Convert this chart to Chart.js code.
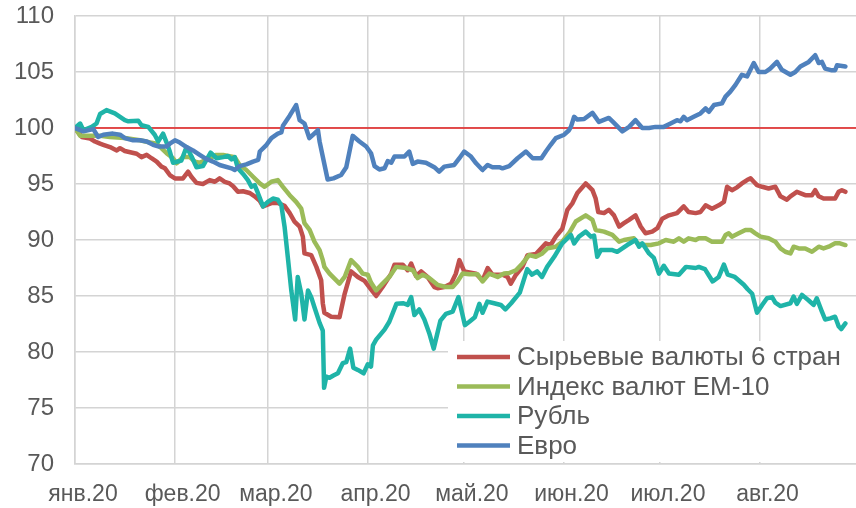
<!DOCTYPE html>
<html>
<head>
<meta charset="utf-8">
<script src="https://cdn.jsdelivr.net/npm/chart.js@4.4.1/dist/chart.umd.min.js"></script>
<style>
  body { margin: 0; background: #fff; }
  canvas { display: block; }
</style>
</head>
<body>
<canvas id="fx" width="856" height="508"></canvas>
<script>
// x values are days counted from 1 Jan 2020
const monthTicks = [0, 31, 60, 91, 121, 152, 182, 213];
const monthLabels = ['янв.20', 'фев.20', 'мар.20', 'апр.20', 'май.20', 'июн.20', 'июл.20', 'авг.20'];

const refDays = [0, 243];
const refVals = [100, 100];

const commDays = [0, 2.1, 4.7, 6.2, 7.8, 8.8, 10.9, 13.0, 14.0, 15.5, 19.2, 20.7, 22.3, 23.8, 25.4, 26.9, 28.0, 29.5, 31.1, 33.6,
  35.2, 36.2, 37.8, 39.8, 41.9, 43.5, 45.0, 46.6, 48.1, 49.2, 50.7, 52.3, 54.3, 55.9, 57.5, 58.5, 61.1, 63.1, 65.2, 66.8,
  68.3, 69.9, 70.9, 71.4, 73.5, 75.1, 76.6, 77.1, 77.6, 79.7, 82.3, 83.9, 85.9, 88.0, 90.1, 92.1, 93.7, 95.7, 98.4, 99.4,
  102.0, 103.5, 104.6, 106.1, 107.7, 109.7, 111.8, 112.8, 114.9, 117.0, 118.5, 119.6, 121.1, 124.8, 126.8, 128.4, 129.9, 133.0, 134.6, 135.6,
  137.2, 139.2, 140.8, 143.4, 146.5, 148.0, 149.6, 151.6, 153.2, 154.8, 156.3, 158.9, 161.0, 162.0, 162.8, 164.6, 166.1, 167.7, 169.3, 170.8,
  172.4, 174.4, 176.0, 177.5, 179.6, 181.2, 182.7, 184.8, 187.3, 189.4, 190.9, 193.1, 194.6, 196.2, 198.2, 200.3, 201.9, 202.9, 204.4, 206.0,
  207.5, 209.1, 210.2, 211.2, 212.2, 213.8, 215.8, 217.9, 219.5, 221.5, 222.6, 224.6, 227.2, 229.3, 230.3, 231.4, 232.9, 236.5, 237.6, 238.6, 239.7];
const commVals = [100, 99.2, 99.05, 98.8, 98.6, 98.5, 98.3, 98.0, 98.2, 97.95, 97.7, 97.4, 97.6, 97.3, 97.0, 96.55, 96.4, 95.8, 95.5, 95.5,
  96.1, 95.65, 95.1, 95.0, 95.35, 95.2, 95.5, 95.2, 95.05, 94.8, 94.3, 94.35, 94.2, 93.9, 93.5, 93.0, 93.3, 93.3, 93.05, 92.4,
  91.65, 91.2, 90.3, 88.8, 88.65, 87.6, 86.4, 84.35, 83.5, 83.15, 83.1, 85.2, 87.2, 86.7, 86.35, 85.6, 85.0, 85.8, 87.0, 87.8,
  87.8, 87.3, 87.9, 86.8, 87.2, 86.7, 85.8, 85.7, 85.8, 86.1, 87.0, 88.2, 87.2, 87.0, 86.4, 87.5, 86.9, 86.9, 86.7, 86.1,
  86.9, 87.6, 88.65, 88.75, 89.7, 89.55, 90.3, 91.0, 92.7, 93.3, 94.2, 95.05, 94.45, 93.7, 92.5, 92.4, 92.7, 92.2, 91.2, 91.5,
  91.8, 92.2, 91.2, 90.6, 90.75, 91.05, 91.9, 92.2, 92.4, 93.0, 92.5, 92.4, 92.5, 93.1, 92.8, 93.1, 93.4, 94.75, 94.45, 94.7,
  95.05, 95.35, 95.5, 95.2, 94.9, 94.75, 94.6, 94.75, 93.9, 93.6, 93.9, 94.3, 94.0, 94.0, 94.45, 93.9, 93.7, 93.7, 94.3, 94.45, 94.3];

const emDays = [0, 1.6, 7.8, 10.9, 15.5, 20.2, 23.4, 25.4, 28.5, 30.5, 31.6, 33.6, 35.7, 37.3, 38.8, 44.0, 46.1, 49.7, 51.2, 53.3,
  55.4, 57.5, 59.0, 61.1, 63.1, 64.7, 66.8, 68.8, 70.4, 71.4, 73.0, 74.5, 76.1, 77.1, 77.6, 79.2, 82.3, 83.9, 85.9, 88.0,
  89.5, 91.1, 92.1, 93.7, 95.7, 97.8, 99.9, 103.0, 105.1, 106.6, 108.2, 110.2, 112.8, 115.4, 117.5, 119.0, 120.6, 122.7, 125.2, 126.8,
  128.9, 131.5, 133.5, 135.1, 137.2, 139.2, 141.3, 143.4, 145.4, 147.0, 149.6, 151.6, 153.7, 155.8, 158.9, 161.0, 162.0, 164.6, 167.2, 169.3,
  170.8, 173.9, 175.0, 177.0, 179.1, 181.7, 183.8, 186.3, 187.9, 189.4, 190.9, 193.1, 194.1, 196.2, 198.2, 201.3, 202.4, 203.4, 204.4, 206.5,
  208.6, 210.2, 211.7, 213.3, 215.8, 217.9, 219.5, 221.0, 222.6, 223.6, 225.2, 227.2, 229.3, 231.4, 232.9, 234.5, 236.5, 238.0, 239.7];
const emVals = [100, 99.3, 99.3, 99.2, 99.1, 98.9, 98.7, 98.6, 97.75, 97.3, 96.85, 97.4, 97.4, 97.0, 96.9, 97.6, 97.6, 97.4, 96.7, 96.25,
  95.65, 95.05, 94.75, 95.2, 95.35, 94.75, 94.0, 93.4, 92.8, 91.5, 90.9, 89.85, 89.1, 88.2, 87.6, 87.0, 86.1, 86.7, 88.2, 87.6,
  87.0, 86.9, 86.2, 85.5, 86.1, 86.7, 87.6, 87.5, 87.3, 86.6, 86.9, 86.6, 86.0, 85.8, 85.8, 86.3, 87.0, 86.95, 86.95, 86.3,
  87.0, 86.7, 87.0, 87.05, 87.3, 87.9, 88.65, 88.5, 88.8, 89.25, 89.4, 89.85, 90.6, 91.65, 92.2, 91.8, 90.9, 90.75, 90.45, 89.85,
  90.0, 90.15, 89.7, 89.55, 89.55, 89.7, 90.0, 89.85, 90.15, 89.85, 90.15, 90.0, 90.15, 90.15, 89.85, 89.85, 90.45, 90.6, 90.3, 90.6,
  90.9, 90.9, 90.6, 90.3, 90.15, 89.85, 89.25, 88.95, 88.8, 89.4, 89.25, 89.25, 88.95, 89.4, 89.25, 89.4, 89.7, 89.7, 89.55];

const rubDays = [0, 1.6, 2.6, 5.2, 6.7, 7.8, 9.8, 12.4, 15.5, 16.6, 19.7, 20.7, 22.8, 24.8, 25.9, 27.4, 28.5, 29.5, 30.5, 33.1,
  34.7, 36.2, 37.8, 39.8, 42.2, 44.0, 46.1, 47.6, 48.7, 49.7, 50.7, 52.3, 53.8, 54.9, 55.9, 56.9, 58.5, 60.0, 61.6, 63.1,
  64.2, 65.2, 66.2, 67.3, 68.5, 69.3, 70.4, 71.4, 72.5, 73.5, 74.5, 76.1, 77.1, 77.5, 78.2, 79.2, 80.4, 81.8, 83.3, 84.4,
  85.6, 86.6, 88.0, 89.8, 91.1, 92.1, 92.7, 93.7, 96.3, 97.8, 100.0, 102.2, 103.5, 104.6, 105.6, 107.1, 108.7, 110.2, 111.6, 113.7,
  115.4, 117.5, 119.3, 121.3, 122.7, 124.4, 125.8, 126.8, 128.3, 130.4, 132.5, 133.9, 135.7, 138.4, 140.7, 142.2, 143.8, 145.3, 146.9, 149.1,
  151.6, 154.3, 155.3, 156.8, 158.9, 160.5, 161.5, 162.5, 163.6, 167.2, 168.7, 170.3, 171.8, 174.4, 175.5, 176.5, 178.6, 180.1, 181.7, 183.2,
  184.8, 187.9, 190.1, 193.1, 194.1, 196.0, 198.4, 200.3, 201.9, 203.1, 205.3, 208.1, 209.3, 210.7, 212.2, 213.8, 215.3, 216.9, 217.9, 219.5,
  222.6, 223.6, 224.6, 226.2, 228.3, 229.8, 230.8, 232.4, 233.4, 235.0, 236.5, 237.6, 238.4, 239.7];
const rubVals = [100, 100.4, 99.8, 100.1, 100.4, 101.25, 101.6, 101.3, 100.7, 100.6, 100.65, 100.25, 100.1, 99.4, 98.8, 99.5, 98.7, 97.9, 96.9, 97.1,
  98.3, 97.5, 96.5, 96.6, 97.8, 97.3, 97.4, 97.5, 97.2, 97.4, 96.4, 95.9, 95.35, 94.75, 94.9, 94.2, 93.0, 93.4, 93.7, 93.6,
  93.1, 91.2, 88.5, 85.5, 82.9, 86.7, 85.2, 82.9, 85.5, 84.9, 84.0, 82.6, 81.9, 76.8, 77.8, 77.7, 77.9, 78.1, 79.0, 79.1,
  80.3, 78.6, 78.4, 78.1, 78.9, 78.7, 80.6, 81.1, 82.0, 82.7, 84.3, 84.35, 84.2, 84.9, 83.3, 83.8, 82.9, 81.7, 80.3, 82.8,
  83.4, 83.6, 84.9, 82.4, 82.7, 83.1, 84.3, 83.5, 84.5, 84.35, 84.2, 83.8, 84.35, 85.3, 87.4, 86.9, 87.2, 86.7, 87.6, 88.5,
  89.7, 90.45, 89.7, 90.3, 90.75, 90.3, 90.4, 88.5, 89.1, 89.1, 88.95, 89.25, 89.55, 90.0, 89.4, 89.7, 88.8, 88.4, 87.0, 87.7,
  87.0, 86.9, 87.6, 87.5, 87.6, 87.4, 86.3, 86.7, 87.8, 86.9, 86.7, 86.0, 85.6, 85.2, 83.5, 84.2, 84.8, 84.9, 84.4, 84.1,
  84.35, 84.95, 84.3, 85.1, 84.6, 84.2, 84.8, 83.6, 82.9, 83.0, 83.15, 82.3, 82.05, 82.55];

const eurDays = [0, 2.6, 5.7, 7.2, 8.8, 11.8, 14.0, 15.5, 18.1, 20.2, 22.3, 24.3, 25.9, 28.5, 29.5, 31.1, 32.6, 34.7, 36.7, 38.8,
  40.4, 42.9, 45.0, 48.7, 49.7, 51.2, 53.3, 55.4, 57.0, 57.5, 59.6, 61.1, 63.1, 64.2, 64.7, 66.8, 68.8, 69.9, 71.4, 72.9,
  75.6, 76.1, 78.6, 80.4, 82.8, 84.4, 86.4, 88.5, 90.6, 92.1, 93.2, 94.7, 96.3, 97.3, 98.4, 99.4, 102.5, 104.0, 105.1, 106.6,
  109.2, 111.8, 113.3, 114.9, 118.0, 119.6, 121.1, 123.2, 124.8, 126.8, 128.4, 129.9, 132.0, 133.0, 135.1, 137.7, 140.3, 142.4, 145.1, 146.5,
  148.0, 149.6, 152.2, 153.7, 154.3, 155.3, 156.3, 158.4, 161.0, 163.0, 166.1, 167.7, 170.3, 172.4, 174.4, 176.5, 178.6, 180.6, 183.2, 185.3,
  187.3, 188.4, 189.4, 190.4, 192.5, 194.6, 196.2, 197.2, 198.8, 201.3, 202.4, 203.9, 205.5, 207.5, 209.1, 211.2, 212.7, 214.8, 216.3, 218.4,
  219.9, 222.6, 224.1, 225.7, 228.3, 230.3, 231.4, 232.4, 233.4, 235.5, 236.5, 237.1, 239.7];
const eurVals = [100, 99.7, 99.9, 99.2, 99.4, 99.5, 99.4, 99.1, 98.9, 98.9, 98.8, 98.5, 98.35, 98.35, 98.6, 98.9, 98.7, 98.3, 98.0, 97.6,
  97.3, 97.0, 96.7, 96.4, 96.25, 96.6, 96.75, 97.0, 97.15, 97.9, 98.5, 99.1, 99.5, 99.6, 100.2, 101.1, 102.05, 100.7, 100.4, 99.1,
  99.8, 98.8, 95.4, 95.5, 95.8, 96.5, 99.3, 98.8, 98.35, 97.75, 96.6, 96.3, 96.4, 97.05, 96.9, 97.45, 97.45, 97.9, 96.8, 97.0,
  96.9, 96.5, 96.1, 96.55, 96.7, 97.3, 97.9, 97.45, 96.85, 96.25, 96.7, 96.5, 96.5, 96.4, 96.6, 97.3, 97.9, 97.3, 97.3, 97.9,
  98.5, 99.1, 99.4, 99.8, 100.1, 101.0, 100.75, 100.8, 101.35, 100.55, 100.9, 100.45, 99.7, 100.1, 100.7, 100.0, 100.0, 100.1, 100.1, 100.4,
  100.7, 100.6, 101.0, 100.7, 101.0, 101.3, 101.75, 101.45, 102.05, 102.2, 102.8, 103.25, 103.85, 104.75, 104.6, 105.8, 105.0, 105.0, 105.3, 105.9,
  105.2, 104.75, 105.0, 105.5, 105.9, 106.5, 105.8, 105.9, 105.3, 105.15, 105.15, 105.6, 105.5];

function points(days, vals)
{
    return days.map(function(d, i) { return {x: d, y: vals[i]}; });
}

const textColor = '#595959';
const gridColor = '#d4d4d4';
const fontFamily = '"Liberation Sans", Arial, sans-serif';

// legend drawn inside the plot, bottom right, on a white box
const boxLegend = {
    id: 'boxLegend',
    afterDraw: function(chart) {
	const ctx = chart.ctx;
	const sets = chart.data.datasets.filter(function(ds) { return ds.label; });
	ctx.save();
	ctx.fillStyle = '#ffffff';
	ctx.fillRect(448, 341, 408, 121);
	ctx.font = '26px ' + fontFamily;
	ctx.textBaseline = 'middle';
	ctx.textAlign = 'left';
	sets.forEach(function(ds, i) {
	    const y = 357 + i * 29.5;
	    ctx.strokeStyle = ds.borderColor;
	    ctx.lineWidth = 4.5;
	    ctx.beginPath();
	    ctx.moveTo(457, y);
	    ctx.lineTo(510, y);
	    ctx.stroke();
	    ctx.fillStyle = textColor;
	    ctx.fillText(ds.label, 517, y + 1);
	});
	ctx.restore();
    }
};

function line(label, days, vals, color, order)
{
    return {
	label: label,
	data: points(days, vals),
	borderColor: color,
	borderWidth: 4.5,
	pointRadius: 0,
	tension: 0,
	borderJoinStyle: 'round',
	borderCapStyle: 'round',
	order: order
    };
}

new Chart(document.getElementById('fx'), {
    type: 'line',
    data: {
	datasets: [
	    line('Сырьевые валюты 6 стран', commDays, commVals, '#c0504d', 4),
	    line('Индекс валют EM-10', emDays, emVals, '#9bbb59', 3),
	    line('Рубль', rubDays, rubVals, '#1fb4a8', 2),
	    line('Евро', eurDays, eurVals, '#4f81bd', 1),
	    {
		data: points(refDays, refVals),
		borderColor: '#e31b1b',
		borderWidth: 1.3,
		pointRadius: 0,
		order: 5
	    }
	]
    },
    options: {
	responsive: false,
	animation: false,
	layout: { padding: { top: 16, right: 0, left: 0, bottom: 0 } },
	plugins: {
	    legend: { display: false },
	    tooltip: { enabled: false }
	},
	scales: {
	    x: {
		type: 'linear',
		min: 0,
		max: 243,
		afterBuildTicks: function(scale) {
		    scale.ticks = monthTicks.map(function(v) { return {value: v}; });
		},
		afterFit: function(scale) {
		    scale.height = 44;
		    scale.paddingLeft = 0;
		    scale.paddingRight = 0;
		},
		grid: { color: gridColor, lineWidth: 1.5, drawTicks: false },
		border: { color: gridColor, width: 1.5 },
		ticks: {
		    autoSkip: false,
		    maxRotation: 0,
		    padding: 17,
		    labelOffset: 8,
		    color: textColor,
		    font: { family: fontFamily, size: 23 },
		    callback: function(v) { return monthLabels[monthTicks.indexOf(v)]; }
		}
	    },
	    y: {
		min: 70,
		max: 110,
		afterFit: function(scale) {
		    scale.width = 75;
		    scale.paddingTop = 0;
		    scale.paddingBottom = 0;
		},
		grid: { color: gridColor, lineWidth: 1.5, drawTicks: false },
		border: { color: gridColor, width: 1.5 },
		ticks: {
		    stepSize: 5,
		    padding: 21,
		    color: textColor,
		    font: { family: fontFamily, size: 24 }
		}
	    }
	}
    },
    plugins: [boxLegend]
});
</script>
</body>
</html>
